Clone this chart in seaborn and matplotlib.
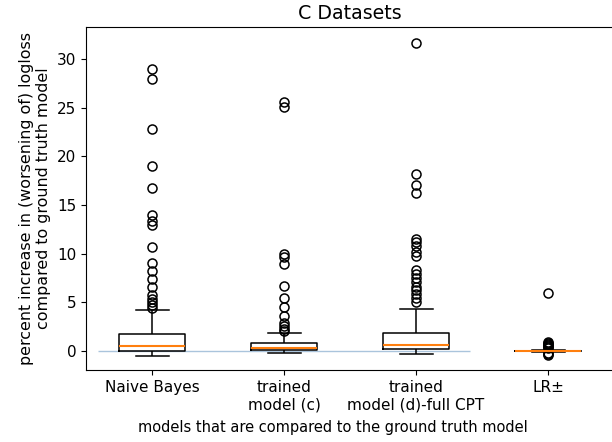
import pandas as pd
import matplotlib
matplotlib.use('Agg')
import matplotlib.pyplot as plt
import seaborn as sns

# models on the x axis
models = ['Naive Bayes', 'trained\nmodel (c)', 'trained\nmodel (d)-full CPT', 'LR±']

# percent increase in logloss per dataset
naive_bayes = [
    -0.48, -0.40, -0.35, -0.30, -0.26, -0.22, -0.18, -0.15, -0.12, -0.10,
    -0.08, -0.06, -0.05, -0.04, -0.03, -0.02, -0.02, -0.01, -0.01, 0.00,
    0.02, 0.04, 0.06, 0.08, 0.10, 0.12, 0.14, 0.16, 0.18, 0.20,
    0.23, 0.26, 0.29, 0.32, 0.35, 0.38, 0.41, 0.44, 0.46, 0.48,
    0.50, 0.53, 0.57, 0.61, 0.65, 0.70, 0.75, 0.80, 0.85, 0.90,
    0.96, 1.02, 1.08, 1.15, 1.22, 1.30, 1.38, 1.47, 1.56, 1.65,
    1.75, 3.94, 4.2, 4.4, 4.7, 5.0, 5.3, 5.8, 6.6, 7.4,
    8.2, 9.0, 10.7, 13.0, 13.4, 14.0, 16.8, 19.0, 22.8, 28.0,
    29.0,
]
trained_c = [
    -0.24, -0.20, -0.17, -0.14, -0.12, -0.10, -0.08, -0.06, -0.05, -0.04,
    -0.03, -0.02, -0.01, 0.00, 0.03, 0.07, 0.08, 0.09, 0.10, 0.11,
    0.12, 0.13, 0.14, 0.15, 0.16, 0.17, 0.18, 0.20, 0.21, 0.22,
    0.26, 0.30, 0.32, 0.34, 0.36, 0.39, 0.42, 0.45, 0.49, 0.53,
    0.57, 0.62, 0.68, 0.74, 0.80, 0.85, 1.20, 1.88, 2.1, 2.3,
    2.6, 2.9, 3.6, 4.5, 5.5, 6.7, 8.9, 9.7, 10.0, 25.1,
    25.6,
]
trained_d = [
    -0.34, -0.30, -0.26, -0.22, -0.19, -0.16, -0.13, -0.10, -0.08, -0.06,
    -0.04, -0.02, 0.00, 0.03, 0.06, 0.09, 0.12, 0.15, 0.18, 0.21,
    0.24, 0.26, 0.28, 0.30, 0.32, 0.34, 0.36, 0.38, 0.40, 0.42,
    0.44, 0.46, 0.48, 0.50, 0.52, 0.54, 0.56, 0.58, 0.60, 0.62,
    0.65, 0.70, 0.75, 0.80, 0.85, 0.90, 0.95, 1.00, 1.05, 1.10,
    1.15, 1.20, 1.26, 1.32, 1.38, 1.45, 1.52, 1.60, 1.70, 1.80,
    1.88, 2.90, 4.28, 5.0, 5.5, 5.9, 6.3, 6.6, 7.1, 7.5,
    7.9, 8.3, 9.8, 10.2, 10.8, 11.2, 11.5, 16.2, 17.1, 18.2,
    31.7,
]
lr_pm = [
    -0.45, -0.35, -0.25, -0.10, -0.08, -0.07, -0.06, -0.05, -0.04, -0.035,
    -0.03, -0.025, -0.02, -0.018, -0.015, -0.012, -0.01, -0.007, -0.005, -0.002,
    0.00, 0.003, 0.006, 0.01, 0.013, 0.016, 0.02, 0.025, 0.03, 0.035,
    0.04, 0.06, 0.10, 0.30, 0.45, 0.50, 0.60, 0.70, 0.80, 0.90,
    6.0,
]

series = [naive_bayes, trained_c, trained_d, lr_pm]
df = pd.concat([pd.DataFrame({'model': m, 'value': v}) for m, v in zip(models, series)],
               ignore_index=True)

plt.rcParams['font.size'] = 11

fig = plt.figure(figsize=(6.12, 4.42), dpi=100)
ax = fig.add_axes([86 / 612, 1 - 370 / 442, 528 / 612, 343 / 442])

# zero reference line
ax.hlines(0, -0.41, 2.41, color='#aac4dc', linewidth=1, zorder=0)

sns.boxplot(data=df, x='model', y='value', order=models, ax=ax,
            fill=False, color='black', width=0.5, linewidth=1.1,
            medianprops=dict(color='#ff7f0e', linewidth=1.5),
            flierprops=dict(marker='o', markersize=6.5, markerfacecolor='none',
                            markeredgecolor='black', markeredgewidth=1.1))

ax.set_xlim(-0.5, 3.5)
ax.set_ylim(-1.95, 33.3)
ax.set_yticks([0, 5, 10, 15, 20, 25, 30])
ax.tick_params(labelsize=11)
ax.set_title('C Datasets', fontsize=13.7)
ax.set_xlabel('models that are compared to the ground truth model', fontsize=10.5)
ax.xaxis.set_label_coords(0.468, -0.145)
ax.set_ylabel('percent increase in (worsening of) logloss\ncompared to ground truth model',
              fontsize=11.4)

fig.savefig('out.png', dpi=100)
